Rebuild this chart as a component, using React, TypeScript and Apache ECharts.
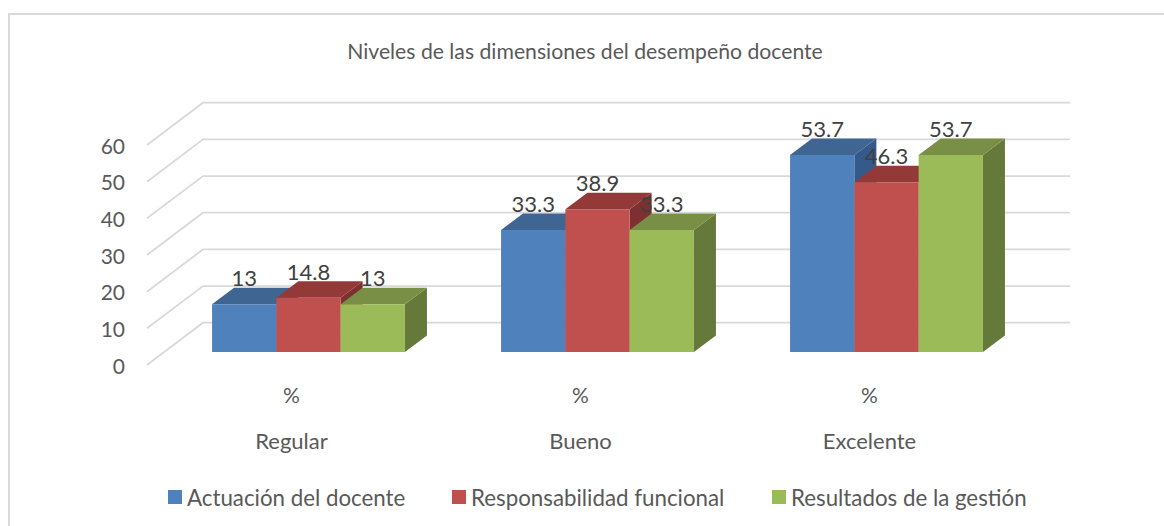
import React, { useEffect, useRef } from "react";
import * as echarts from "echarts";

const titleText = "Niveles de las dimensiones del desempeño docente";
const categories = ["Regular", "Bueno", "Excelente"];
const subLabels = ["%", "%", "%"];
const actuacion = [13, 33.3, 53.7];
const responsabilidad = [14.8, 38.9, 46.3];
const resultados = [13, 33.3, 53.7];
const yTicks = [0, 10, 20, 30, 40, 50, 60];

const FONT = "Lato, sans-serif";
const TXT = "#595959";
const BAR_W = 64.3;
const FRONT_DX = 17, FRONT_DY = 13;
const DEPTH_DX = 22, DEPTH_DY = 16.5;
const WALL_DX = 56, WALL_DY = 42.3;

const barSeries = (name: string, values: number[], pos: number, front: string, top: string, side: string) => ({
  type: "custom",
  name,
  xAxisIndex: 0,
  yAxisIndex: 0,
  z: 3,
  itemStyle: { color: front },
  data: values.map((v, i) => [i, v]),
  renderItem: (_p: any, api: any) => {
    const i = api.value(0), v = api.value(1);
    const t = api.coord([i, v]);
    const b = api.coord([i, 0]);
    const x0 = t[0] + FRONT_DX + (pos - 1.5) * BAR_W;
    const x1 = x0 + BAR_W;
    const yT = t[1] - FRONT_DY;
    const yB = b[1] - FRONT_DY;
    return {
      type: "group",
      children: [
        { type: "polygon", shape: { points: [[x1, yT], [x1 + DEPTH_DX, yT - DEPTH_DY], [x1 + DEPTH_DX, yB - DEPTH_DY], [x1, yB]] }, style: { fill: side } },
        { type: "polygon", shape: { points: [[x0, yT], [x1, yT], [x1 + DEPTH_DX, yT - DEPTH_DY], [x0 + DEPTH_DX, yT - DEPTH_DY]] }, style: { fill: top } },
        { type: "rect", shape: { x: x0, y: yT, width: BAR_W, height: yB - yT }, style: { fill: front } },
        { type: "text", z2: 100, style: { text: String(v), x: x0 + BAR_W / 2, y: yT - DEPTH_DY - 10, fill: "#404040", fontSize: 22, fontFamily: FONT, align: "center", verticalAlign: "middle" } },
      ],
    };
  },
});

const legendAt = (name: string, left: number, fontSize: number) => ({
  data: [{ name, icon: "rect" }],
  left,
  top: 486,
  padding: 0,
  itemWidth: 14,
  itemHeight: 14,
  itemGap: 0,
  textStyle: { color: TXT, fontSize, fontFamily: FONT },
  selectedMode: false,
});

export default function App() {
  const ref = useRef<HTMLDivElement>(null);
  useEffect(() => {
    document.body.style.margin = "0";
    const chart = echarts.init(ref.current!, undefined, { renderer: "svg" });
    chart.setOption({
      animation: false,
      backgroundColor: "#ffffff",
      title: { text: titleText, left: 580, top: 35, textAlign: "center", textStyle: { color: TXT, fontSize: 21.2, fontWeight: "normal", fontFamily: FONT } },
      grid: { left: 147, right: 150, top: 145, bottom: 161 },
      legend: [
        legendAt("Actuación del docente", 168, 22.3),
        legendAt("Responsabilidad funcional", 452, 22.3),
        legendAt("Resultados de la gestión", 772, 22.3),
      ],
      xAxis: [
        { type: "category", data: subLabels, position: "bottom", axisLine: { show: false }, axisTick: { show: false }, axisLabel: { color: TXT, fontSize: 21, fontFamily: FONT, margin: 19 } },
        { type: "category", data: categories, position: "bottom", offset: 45, axisLine: { show: false }, axisTick: { show: false }, axisLabel: { color: TXT, fontSize: 22, fontFamily: FONT, margin: 19 } },
      ],
      yAxis: { type: "value", min: 0, max: 60, interval: 10, axisLine: { show: false }, axisTick: { show: false }, splitLine: { show: false }, axisLabel: { color: TXT, fontSize: 21, fontFamily: FONT, margin: 22 } },
      graphic: [
        { type: "line", shape: { x1: 9, y1: 14, x2: 1164, y2: 14 }, style: { stroke: "#d9d9d9", lineWidth: 2 } },
        { type: "line", shape: { x1: 9, y1: 13, x2: 9, y2: 526 }, style: { stroke: "#d9d9d9", lineWidth: 2 } },
      ],
      series: [
        {
          type: "custom",
          name: "wall",
          z: 1,
          silent: true,
          data: yTicks.map((v) => [0, v]),
          renderItem: (p: any, api: any) => {
            const y = api.coord([0, api.value(1)])[1];
            const x = p.coordSys.x;
            return {
              type: "polyline",
              shape: { points: [[x, y], [x + WALL_DX, y - WALL_DY], [x + p.coordSys.width + WALL_DX, y - WALL_DY]] },
              style: { stroke: "#d9d9d9", lineWidth: 1.8, fill: "none" },
            };
          },
        },
        barSeries("Actuación del docente", actuacion, 0, "#4f81bd", "#3f6592", "#35598a"),
        barSeries("Responsabilidad funcional", responsabilidad, 1, "#c0504d", "#933a38", "#7d302f"),
        barSeries("Resultados de la gestión", resultados, 2, "#9bbb59", "#788f45", "#65793a"),
      ],
    });
    return () => chart.dispose();
  }, []);
  return <div ref={ref} style={{ position: "absolute", left: 0, top: 0, width: 1164, height: 526 }} />;
}
